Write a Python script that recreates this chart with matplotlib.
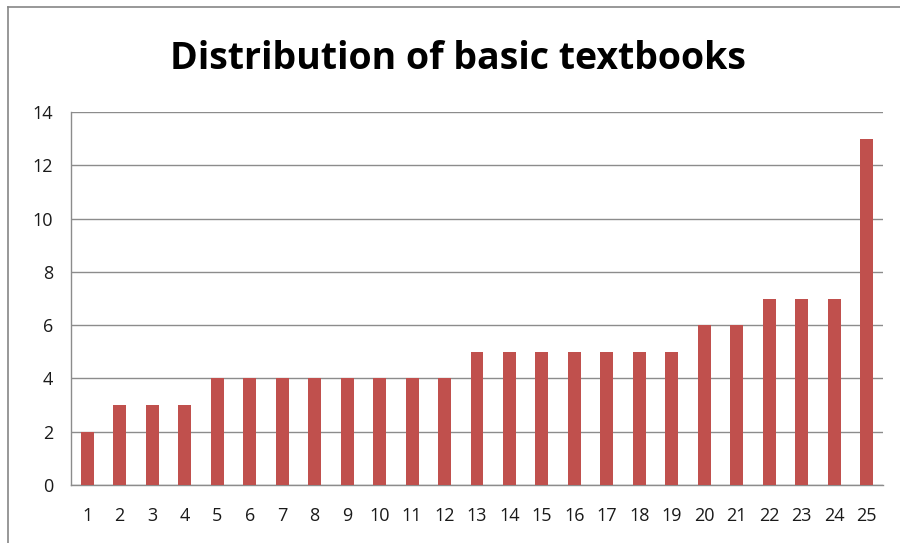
import matplotlib
matplotlib.use("Agg")
import matplotlib.pyplot as plt
from matplotlib.lines import Line2D

# Values
categories = [str(i) for i in range(1, 26)]
counts = [2, 3, 3, 3, 4, 4, 4, 4, 4, 4, 4, 4, 5, 5, 5, 5, 5, 5, 5, 6, 6, 7, 7, 7, 13]
y_ticks = [0, 2, 4, 6, 8, 10, 12, 14]

plt.rcParams["font.family"] = "Open Sans"

fig = plt.figure(figsize=(9, 5.43), dpi=100)
ax = fig.add_axes([0.0789, 0.1068, 0.9022, 0.6869])

x = range(len(categories))
ax.bar(x, counts, width=0.4, color="#C0504D", zorder=3)

ax.set_xlim(-0.5, len(categories) - 0.5)
ax.set_ylim(0, 14)
ax.set_yticks(y_ticks)
ax.set_xticks(list(x))
ax.set_xticklabels(categories)
ax.grid(axis="y", color="#8C8C8C", linewidth=1, zorder=0)

for side in ["top", "right"]:
    ax.spines[side].set_visible(False)
for side in ["left", "bottom"]:
    ax.spines[side].set_color("#8C8C8C")
    ax.spines[side].set_linewidth(1)

ax.tick_params(axis="both", length=0, labelsize=13, colors="#1a1a1a")
ax.tick_params(axis="x", pad=16)
ax.tick_params(axis="y", pad=13)

fig.text(0.509, 0.891, "Distribution of basic textbooks", ha="center", va="center",
         fontsize=27, fontweight="bold", color="black")

# chart outer border (top and left edges visible)
fig.add_artist(Line2D([8 / 900, 8 / 900], [0.0, 1 - 7 / 543], transform=fig.transFigure,
                      color="#868686", linewidth=1.2))
fig.add_artist(Line2D([8 / 900, 1.0], [1 - 7 / 543, 1 - 7 / 543], transform=fig.transFigure,
                      color="#868686", linewidth=1.2))

fig.savefig("out.png", dpi=100)
